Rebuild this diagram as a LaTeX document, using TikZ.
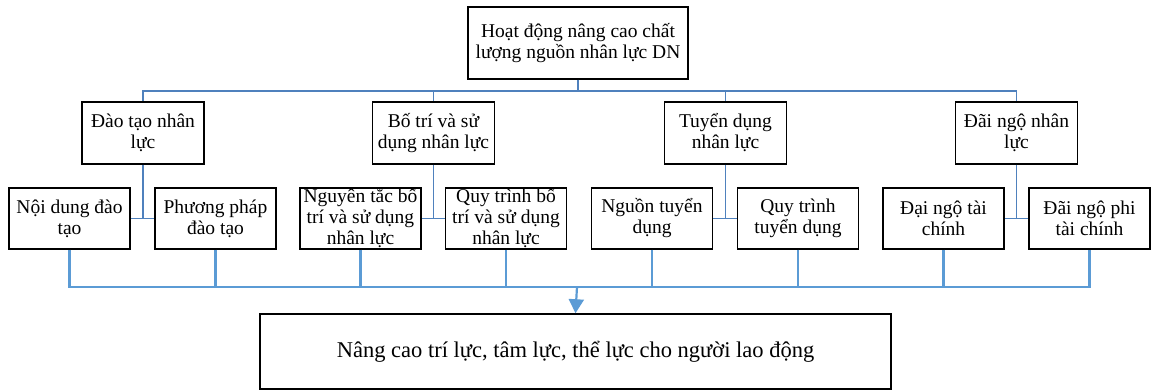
\documentclass[tikz,border=0pt]{standalone}
\usepackage{fontspec}
\setmainfont{Liberation Serif}
\usetikzlibrary{arrows.meta}
\definecolor{lineA}{RGB}{79,129,189}
\definecolor{lineB}{RGB}{91,155,213}
\begin{document}
\begin{tikzpicture}[x=1pt,y=-1pt,
  box/.style={draw=black, line width=1.5pt, fill=white, align=center, inner sep=0pt, font=\fontsize{19.5}{21}\selectfont},
  lvlone/.style={box, minimum width=122pt, minimum height=62pt},
  lvltwo/.style={box, minimum width=121pt, minimum height=61pt},
  upline/.style={draw=lineA, line width=1.1pt},
  lowline/.style={draw=lineB, line width=2.2pt},
]
\useasboundingbox (0,0) rectangle (1152,390);
\node[box, minimum width=220pt, minimum height=72pt] (top) at (578,43) {Hoạt động nâng cao chất\\lượng nguồn nhân lực DN};
\node[lvlone] (a) at (143,133) {Đào tạo nhân\\lực};
\node[lvlone] (b) at (433.5,133) {Bố trí và sử\\dụng nhân lực};
\node[lvlone] (c) at (725.5,133) {Tuyển dụng\\nhân lực};
\node[lvlone] (d) at (1016.5,133) {Đãi ngộ nhân\\lực};
\node[lvltwo] (a1) at (69.5,218.5) {Nội dung đào\\tạo};
\node[lvltwo] (a2) at (215.5,218.5) {Phương pháp\\đào tạo};
\node[lvltwo] (b1) at (360.5,218.5) {Nguyên tắc bố\\trí và sử dụng\\nhân lực};
\node[lvltwo] (b2) at (506,218.5) {Quy trình bố\\trí và sử dụng\\nhân lực};
\node[lvltwo] (c1) at (652,218.5) {Nguồn tuyển\\dụng};
\node[lvltwo] (c2) at (798,218.5) {Quy trình\\tuyển dụng};
\node[lvltwo] (d1) at (943.5,218.5) {Đại ngộ tài\\chính};
\node[lvltwo] (d2) at (1089.5,218.5) {Đãi ngộ phi\\tài chính};
\node[box, minimum width=631pt, minimum height=75pt, font=\fontsize{22.5}{26}\selectfont] (out) at (575.5,351.5) {\raisebox{-4pt}{Nâng cao trí lực, tâm lực, thể lực cho người lao động}};
\coordinate (hub) at (580,91);
\coordinate (low) at (577,287);
\draw[upline] (top.south) -- (top.south |- hub);
\draw[upline] (a.north) |- (hub) -| (d.north);
\draw[upline] (b.north) -- (b.north |- hub);
\draw[upline] (c.north) -- (c.north |- hub);
\foreach \p/\l/\r in {a/a1/a2, b/b1/b2, c/c1/c2, d/d1/d2}{
  \draw[upline] (\p.south) -- (\p.south |- \l.east);
  \draw[upline] (\l.east) -- (\r.west);
}
\draw[lowline] (a1.south) |- (low) -| (d2.south);
\foreach \n in {a2,b1,b2,c1,c2,d1}{
  \draw[lowline] (\n.south) -- (\n.south |- low);
}
\draw[lowline, -{Triangle[length=14pt,width=15pt]}] (low) -- (out.north);
\end{tikzpicture}
\end{document}
